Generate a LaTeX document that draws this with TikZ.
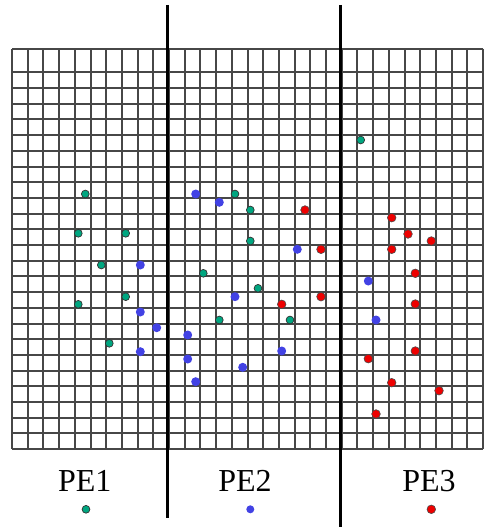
\documentclass[tikz,border=0pt]{standalone}
\usepackage{fontspec}
\setmainfont{Liberation Serif}
\definecolor{pegreen}{RGB}{0,166,128}
\definecolor{peblue}{RGB}{66,66,228}
\definecolor{pered}{RGB}{238,0,0}
\tikzset{
  gridline/.style={line width=2pt, black!72},
  divider/.style={line width=2.5pt, black},
  gdot/.style={circle, fill=pegreen, draw=black!80, line width=0.7pt, inner sep=0pt, minimum size=7.8pt},
  bdot/.style={circle, fill=peblue, inner sep=0pt, minimum size=9pt},
  rdot/.style={circle, fill=pered, draw=black!70, line width=0.6pt, inner sep=0pt, minimum size=8.6pt},
  pelabel/.style={font=\fontsize{32}{36}\selectfont, inner sep=0pt, anchor=base}
}
\begin{document}
\begin{tikzpicture}[x=1pt,y=-1pt]
\useasboundingbox (0,0) rectangle (488,527);
% grid
\foreach \i in {0,...,30} {
  \draw[gridline] ({12+15.7*\i},48.7) -- ({12+15.7*\i},449.1);
}
\draw[gridline] (12,48.7) -- (483,48.7);
\foreach \j in {0,...,24} {
  \draw[gridline] (12,{72.3+15.7*\j}) -- (483,{72.3+15.7*\j});
}
% dividers
\coordinate (v1t) at (167.3,5);
\coordinate (v1b) at (167.3,518);
\coordinate (v2t) at (340.7,5);
\coordinate (v2b) at (340.7,527);
\draw[divider] (v1t) -- (v1b);
\draw[divider] (v2t) -- (v2b);
% green dots
\foreach \x/\y [count=\k] in {85.3/194, 78.3/233.3, 125.7/233.3, 101.3/265, 125.7/296.7, 78.3/304.3, 109.3/343.3,
  235/194, 250.3/210, 250.3/241, 203.3/273.3, 258/288.3, 219.3/320, 290/320, 360.7/140} {
  \node[gdot] (g\k) at (\x,\y) {};
}
% blue dots
\foreach \x/\y [count=\k] in {140.3/265, 140.3/312, 156.7/327.7, 140.3/351.7,
  195.7/194, 219.3/202.3, 297.3/249.3, 235/296.7, 187.7/335, 281.7/351, 187.7/359, 242.7/367.3, 195.7/381.7,
  368.3/281, 376/320} {
  \node[bdot] (b\k) at (\x,\y) {};
}
% red dots
\foreach \x/\y [count=\k] in {305/210, 321/249.3, 321/296.7, 281.7/304.3,
  391.7/217.7, 408/234, 431.3/241, 391.7/249.3, 415.3/273.3, 415.3/304, 415.3/351, 368.3/358.7, 391.7/382.7, 439/390.7, 376/414} {
  \node[rdot] (r\k) at (\x,\y) {};
}
% labels
\node[pelabel] (pe1) at (84.7,491.7) {PE1};
\node[pelabel] (pe2) at (245,491.7) {PE2};
\node[pelabel] (pe3) at (429,491.7) {PE3};
\node[gdot] (lg) at (86,509.3) {};
\node[bdot, minimum size=8pt] (lb) at (250.3,509.3) {};
\node[rdot] (lr) at (431.3,509.3) {};
\end{tikzpicture}
\end{document}
